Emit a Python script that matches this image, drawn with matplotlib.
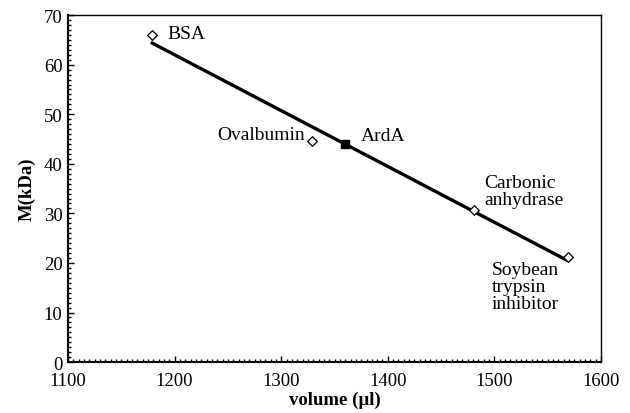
import numpy as np
import matplotlib.pyplot as plt
from matplotlib.ticker import MultipleLocator

# 표준 단백질 (elution volume, MW)
proteins = ['BSA', 'Ovalbumin', 'Carbonic\nanhydrase', 'Soybean\ntrypsin\ninhibitor']
volume = [1179, 1329, 1481, 1569]
mw = [66.0, 44.7, 30.6, 21.3]

# ArdA 측정값
arda_volume = [1360]
arda_mw = [44.1]

plt.rcParams['font.family'] = ['Liberation Serif', 'DejaVu Serif']

fig = plt.figure(figsize=(6.3, 4.14), dpi=100)
ax = fig.add_axes([0.108, 0.123, 0.846, 0.838])

# 검량선 (linear fit)
coef = np.polyfit(volume, mw, 1)
fx = np.array([min(volume), max(volume)])
ax.plot(fx, np.polyval(coef, fx), color='black', lw=2.4, zorder=2)

ax.scatter(volume, mw, marker='D', s=24, facecolor='white', edgecolor='black', lw=0.9, zorder=3)
ax.scatter(arda_volume, arda_mw, marker='s', s=28, color='black', zorder=3)

offsets = [(11, 1, 'left', 'center'), (-5, 4, 'right', 'center'),
           (7, 1.5, 'left', 'bottom'), (-55, -3, 'left', 'top')]
for name, x, y, (dx, dy, ha, va) in zip(proteins, volume, mw, offsets):
    ax.annotate(name, (x, y), xytext=(dx, dy), textcoords='offset points',
                ha=ha, va=va, fontsize=14, linespacing=1.0)
ax.annotate('ArdA', (arda_volume[0], arda_mw[0]), xytext=(11, 6), textcoords='offset points',
            ha='left', va='center', fontsize=14)

ax.set_xlim(1100, 1600)
ax.set_ylim(0, 70)
ax.xaxis.set_major_locator(MultipleLocator(100))
ax.xaxis.set_minor_locator(MultipleLocator(5))
ax.yaxis.set_major_locator(MultipleLocator(10))
ax.yaxis.set_minor_locator(MultipleLocator(1))
ax.tick_params(which='both', direction='in', top=False, right=False, labelsize=13.5)
ax.tick_params(axis='x', which='major', pad=7)
ax.tick_params(axis='y', which='major', pad=4)
ax.tick_params(which='major', length=4, width=1)
ax.tick_params(which='minor', length=2.5, width=1)
for s in ['left', 'bottom']:
    ax.spines[s].set_linewidth(1.5)
for s in ['top', 'right']:
    ax.spines[s].set_linewidth(1.0)

ax.set_xlabel('volume (\u00b5l)', fontweight='bold', fontsize=13.5, labelpad=1)
ax.set_ylabel('M(kDa)', fontweight='bold', fontsize=13.5, labelpad=6)

fig.savefig('out.png', dpi=100)
